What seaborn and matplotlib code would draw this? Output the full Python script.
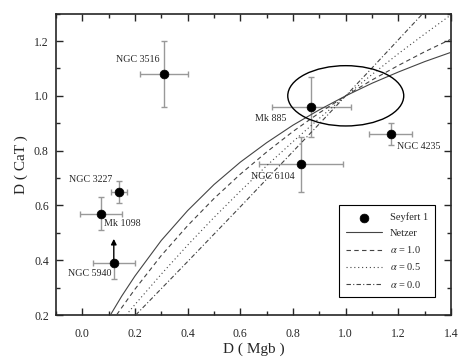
import numpy as np
import pandas as pd
import matplotlib
matplotlib.use("Agg")
import matplotlib.pyplot as plt
from matplotlib.patches import Ellipse
from matplotlib.ticker import MultipleLocator
import seaborn as sns

# Seyfert 1 galaxies: D(Mgb), D(CaT) and their errors
names = ["NGC 3516", "NGC 3227", "Mk 1098", "NGC 5940", "Mk 885", "NGC 4235", "NGC 6104"]
d_mgb = [0.31, 0.14, 0.07, 0.12, 0.87, 1.17, 0.83]
d_cat = [1.08, 0.65, 0.57, 0.39, 0.96, 0.86, 0.75]
err_mgb = [0.09, 0.03, 0.08, 0.08, 0.15, 0.08, 0.16]
err_cat_lo = [0.12, 0.04, 0.06, 0.06, 0.11, 0.04, 0.10]
err_cat_hi = [0.12, 0.04, 0.06, 0.00, 0.11, 0.04, 0.10]

# dilution curves
netzer_x = [0.107, 0.15, 0.2, 0.3, 0.4, 0.5, 0.6, 0.7, 0.8, 0.9, 1.0, 1.1, 1.2, 1.3, 1.4]
netzer_y = [0.200, 0.269, 0.342, 0.472, 0.581, 0.676, 0.758, 0.829, 0.893, 0.949, 1.0, 1.046, 1.087, 1.125, 1.159]
a10_x = [0.131, 0.15, 0.2, 0.3, 0.4, 0.5, 0.6, 0.7, 0.8, 0.9, 1.0, 1.1, 1.2, 1.3, 1.4]
a10_y = [0.201, 0.227, 0.294, 0.417, 0.526, 0.625, 0.714, 0.795, 0.870, 0.938, 1.0, 1.058, 1.111, 1.161, 1.207]
a05_x = [0.167, 0.2, 0.3, 0.4, 0.5, 0.6, 0.7, 0.8, 0.9, 1.0, 1.1, 1.2, 1.3, 1.4]
a05_y = [0.200, 0.238, 0.349, 0.455, 0.556, 0.652, 0.745, 0.833, 0.918, 1.0, 1.078, 1.154, 1.226, 1.296]
a00_x = [0.203, 0.3, 0.4, 0.5, 0.6, 0.7, 0.8, 0.9, 1.0, 1.1, 1.2, 1.3]
a00_y = [0.200, 0.296, 0.395, 0.495, 0.595, 0.696, 0.797, 0.898, 1.0, 1.102, 1.205, 1.308]

sns.set_style("ticks")
plt.rcParams["font.family"] = ["Liberation Serif", "DejaVu Serif"]
plt.rcParams["mathtext.fontset"] = "stix"

fig = plt.figure(figsize=(4.69, 3.58), dpi=100)
ax = fig.add_axes([0.119, 0.12, 0.843, 0.842])

curve_col = "#444444"
curves = [
    (netzer_x, netzer_y, "-", "Netzer"),
    (a10_x, a10_y, (0, (4, 3)), r"$\alpha$ = 1.0"),
    (a05_x, a05_y, (0, (1, 2.5)), r"$\alpha$ = 0.5"),
    (a00_x, a00_y, (0, (4, 2, 1, 2)), r"$\alpha$ = 0.0"),
]

ax.errorbar(d_mgb, d_cat, xerr=err_mgb, yerr=[err_cat_lo, err_cat_hi],
            fmt="none", ecolor="#999999", elinewidth=1.0, capsize=2, capthick=1.0, zorder=2)
sns.scatterplot(x=d_mgb, y=d_cat, ax=ax, color="black", s=40, edgecolor="black",
                zorder=4, label="Seyfert 1")
for xs, ys, ls, lab in curves:
    df = pd.DataFrame({"x": xs, "y": ys})
    sns.lineplot(data=df, x="x", y="y", ax=ax, color=curve_col, linewidth=0.8,
                 linestyle=ls, sort=False, label=lab, zorder=3)

# lower limit arrow for NGC 5940
ax.annotate("", xy=(0.12, 0.478), xytext=(0.12, 0.39),
            arrowprops=dict(arrowstyle="-|>", color="black", lw=1.0,
                            mutation_scale=8, shrinkA=0, shrinkB=0))

ax.add_patch(Ellipse((1.0, 1.0), 0.44, 0.22, fill=False, edgecolor="black", lw=1.0, zorder=3))

label_pos = {
    "NGC 3516": (0.292, 1.131, "right"),
    "NGC 3227": (0.114, 0.695, "right"),
    "Mk 1098": (0.084, 0.535, "left"),
    "NGC 5940": (0.110, 0.350, "right"),
    "Mk 885": (0.657, 0.918, "left"),
    "NGC 4235": (1.194, 0.814, "left"),
    "NGC 6104": (0.640, 0.705, "left"),
}
for n in names:
    x, y, ha = label_pos[n]
    ax.text(x, y, n, ha=ha, va="center", fontsize=7.2)

ax.set_xlim(-0.1, 1.4)
ax.set_ylim(0.2, 1.3)
ax.xaxis.set_minor_locator(MultipleLocator(0.1))
ax.yaxis.set_minor_locator(MultipleLocator(0.1))
ax.set_xticks(np.arange(0.0, 1.41, 0.2))
ax.set_xticklabels([f"{v:.1f}" for v in np.arange(0.0, 1.41, 0.2)])
ax.set_yticks(np.arange(0.2, 1.21, 0.2))
ax.set_yticklabels([f"{v:.1f}" for v in np.arange(0.2, 1.21, 0.2)])
ax.tick_params(which="both", direction="in", top=True, right=True, width=1.0, labelsize=8.5)
ax.tick_params(which="major", length=5)
ax.tick_params(which="minor", length=3)
ax.tick_params(axis="x", which="major", pad=9)
ax.tick_params(axis="y", which="major", pad=5)
for s in ax.spines.values():
    s.set_linewidth(1.2)
    s.set_visible(True)

ax.set_xlabel("D ( Mgb )", fontsize=11, labelpad=2)
ax.set_ylabel("D ( CaT )", fontsize=11, labelpad=4)

leg = ax.legend(loc="lower right", bbox_to_anchor=(0.96, 0.06), borderaxespad=0,
                fontsize=7.5, frameon=True, fancybox=False, edgecolor="black",
                handlelength=3.4, labelspacing=0.6, borderpad=0.7, markerfirst=True)
leg.get_frame().set_linewidth(0.8)
leg.get_frame().set_alpha(1)

fig.savefig("out.png", dpi=100)
